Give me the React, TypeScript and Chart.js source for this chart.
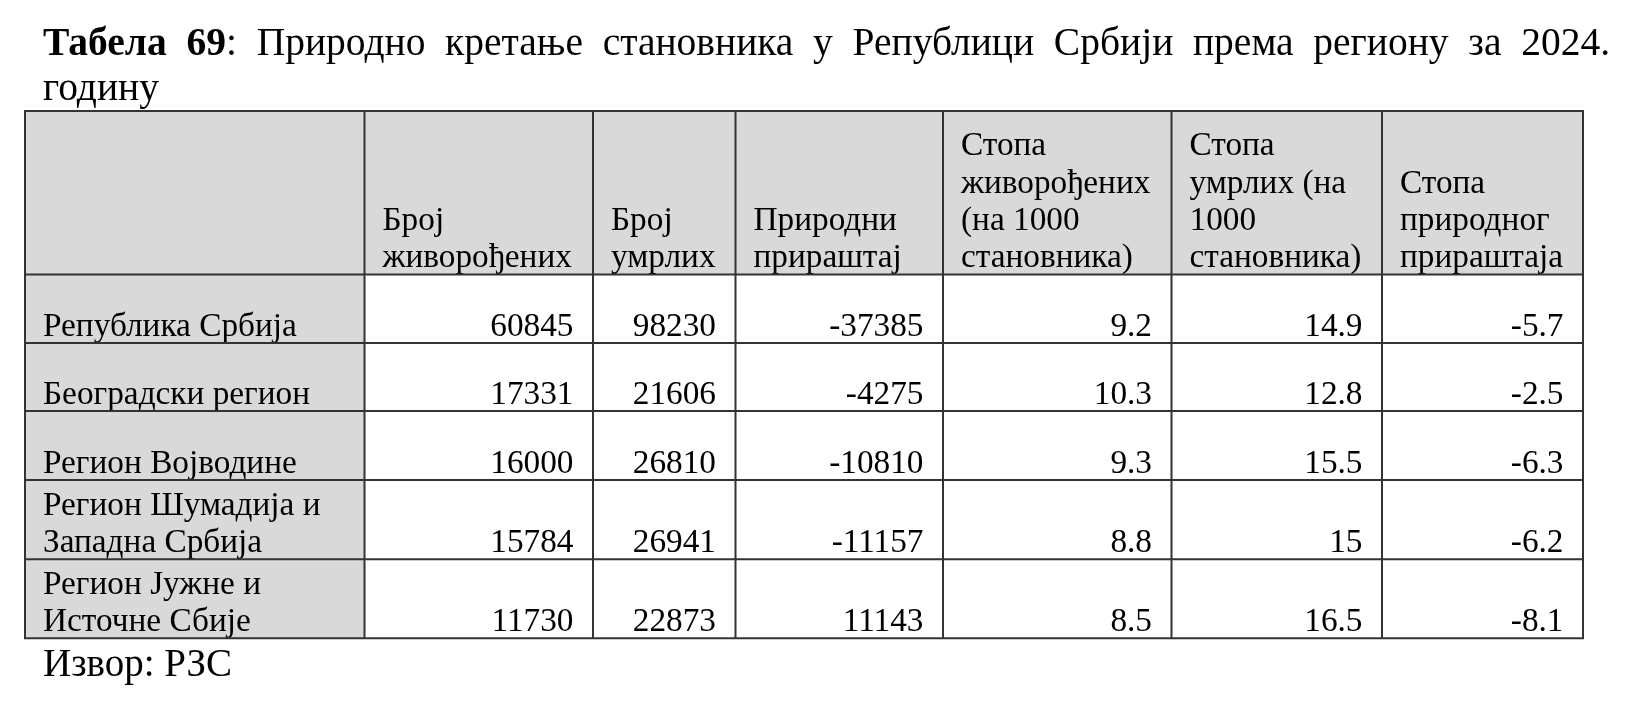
import { useEffect, useRef } from "react";
import { Chart, registerables } from "chart.js";

Chart.register(...registerables);

// ---------- data ----------
const titleBold = "Табела 69";
const titleRest = ": Природно кретање становника у Републици Србији према региону за 2024.";
const titleLine2 = "годину";
const sourceNote = "Извор: РЗС";

const regions: string[][] = [
  ["Република Србија"],
  ["Београдски регион"],
  ["Регион Војводине"],
  ["Регион Шумадија и", "Западна Србија"],
  ["Регион Јужне и", "Источне Сбије"],
];

const columnHeaders: string[][] = [
  [],
  ["Број", "живорођених"],
  ["Број", "умрлих"],
  ["Природни", "прираштај"],
  ["Стопа", "живорођених", "(на 1000", "становника)"],
  ["Стопа", "умрлих (на", "1000", "становника)"],
  ["Стопа", "природног", "прираштаја"],
];

const liveBirths = [60845, 17331, 16000, 15784, 11730];
const deaths = [98230, 21606, 26810, 26941, 22873];
const naturalIncrease = [-37385, -4275, -10810, -11157, 11143];
const birthRate = [9.2, 10.3, 9.3, 8.8, 8.5];
const deathRate = [14.9, 12.8, 15.5, 15, 16.5];
const naturalRate = [-5.7, -2.5, -6.3, -6.2, -8.1];

const valueColumns = [liveBirths, deaths, naturalIncrease, birthRate, deathRate, naturalRate];

// ---------- layout (scale units) ----------
const W = 1638;
const H = 728;
const COL_EDGES = [25, 364.5, 593, 735.5, 943, 1171.5, 1382, 1583];
const ROW_EDGES = [111, 274.5, 343, 411, 480, 559.3, 638.3];
const PAD_L = 18;
const PAD_R = 19.5;
const BASE_OFF = 7.5;
const LINE_H = 37.2;
const TITLE_X0 = 43;
const TITLE_X1 = 1610;
const TITLE_Y1 = 55;
const TITLE_Y2 = 100;
const SOURCE_Y = 676;

const FONT = '"Liberation Serif", "Times New Roman", serif';
const BODY_FONT = `33.3px ${FONT}`;
const TITLE_FONT = `39.5px ${FONT}`;
const TITLE_BOLD = `bold 39.5px ${FONT}`;
const SOURCE_FONT = `39px ${FONT}`;
const GRAY = "#d9d9d9";
const LINE = "#333333";

const tablePlugin = {
  id: "tablePlugin",
  beforeDraw(chart: any) {
    const ctx = chart.ctx;
    ctx.save();
    ctx.fillStyle = "#ffffff";
    ctx.fillRect(0, 0, chart.width, chart.height);
    ctx.restore();
  },
  afterDraw(chart: any) {
    const ctx: CanvasRenderingContext2D = chart.ctx;
    const xs = chart.scales.x;
    const ys = chart.scales.y;
    const px = (v: number) => xs.getPixelForValue(v);
    const py = (v: number) => ys.getPixelForValue(v);
    ctx.save();

    // fills
    const nCols = COL_EDGES.length - 1;
    const nRows = ROW_EDGES.length - 1;
    for (let r = 0; r < nRows; r++) {
      for (let c = 0; c < nCols; c++) {
        const gray = r === 0 || c === 0;
        ctx.fillStyle = gray ? GRAY : "#ffffff";
        const x0 = px(COL_EDGES[c]);
        const x1 = px(COL_EDGES[c + 1]);
        const y0 = py(ROW_EDGES[r]);
        const y1 = py(ROW_EDGES[r + 1]);
        ctx.fillRect(x0, y0, x1 - x0, y1 - y0);
      }
    }

    ctx.fillStyle = "#000000";
    ctx.textBaseline = "alphabetic";

    // title line 1 (justified)
    type Piece = { text: string; font: string };
    const words: Piece[][] = [];
    const boldWords = titleBold.split(" ");
    boldWords.forEach((w, i) => {
      const pieces: Piece[] = [{ text: w, font: TITLE_BOLD }];
      if (i === boldWords.length - 1) pieces.push({ text: ":", font: TITLE_FONT });
      words.push(pieces);
    });
    titleRest
      .replace(/^:\s*/, "")
      .split(" ")
      .forEach((w) => words.push([{ text: w, font: TITLE_FONT }]));
    const wordWidth = (w: Piece[]) =>
      w.reduce((s, p) => {
        ctx.font = p.font;
        return s + ctx.measureText(p.text).width;
      }, 0);
    const widths = words.map(wordWidth);
    const total = widths.reduce((a, b) => a + b, 0);
    const gap = (px(TITLE_X1) - px(TITLE_X0) - total) / (words.length - 1);
    let cx = px(TITLE_X0);
    ctx.textAlign = "left";
    words.forEach((w, i) => {
      let x = cx;
      w.forEach((p) => {
        ctx.font = p.font;
        ctx.fillText(p.text, x, py(TITLE_Y1));
        x += ctx.measureText(p.text).width;
      });
      cx += widths[i] + gap;
    });
    ctx.font = TITLE_FONT;
    ctx.fillText(titleLine2, px(TITLE_X0), py(TITLE_Y2));

    // header
    ctx.font = BODY_FONT;
    columnHeaders.forEach((lines, c) => {
      const bottom = ROW_EDGES[1] - BASE_OFF;
      lines.forEach((ln, i) => {
        const yv = bottom - (lines.length - 1 - i) * LINE_H;
        ctx.textAlign = "left";
        ctx.fillText(ln, px(COL_EDGES[c] + PAD_L), py(yv));
      });
    });

    // body rows
    regions.forEach((lines, r) => {
      const bottom = ROW_EDGES[r + 2] - BASE_OFF;
      ctx.textAlign = "left";
      lines.forEach((ln, i) => {
        const yv = bottom - (lines.length - 1 - i) * LINE_H;
        ctx.fillText(ln, px(COL_EDGES[0] + PAD_L), py(yv));
      });
      ctx.textAlign = "right";
      valueColumns.forEach((col, c) => {
        ctx.fillText(String(col[r]), px(COL_EDGES[c + 2] - PAD_R), py(bottom));
      });
    });

    // grid lines
    ctx.strokeStyle = LINE;
    ctx.lineWidth = 2;
    ctx.beginPath();
    COL_EDGES.forEach((e) => {
      ctx.moveTo(px(e), py(ROW_EDGES[0]) - 1);
      ctx.lineTo(px(e), py(ROW_EDGES[ROW_EDGES.length - 1]) + 1);
    });
    ROW_EDGES.forEach((e) => {
      ctx.moveTo(px(COL_EDGES[0]) - 1, py(e));
      ctx.lineTo(px(COL_EDGES[COL_EDGES.length - 1]) + 1, py(e));
    });
    ctx.stroke();

    // source
    ctx.font = SOURCE_FONT;
    ctx.textAlign = "left";
    ctx.fillStyle = "#000000";
    ctx.fillText(sourceNote, px(TITLE_X0), py(SOURCE_Y));

    ctx.restore();
  },
};

export default function App() {
  const ref = useRef<HTMLCanvasElement>(null);
  useEffect(() => {
    document.body.style.margin = "0";
    const canvas = ref.current;
    if (!canvas) return;
    const chart = new Chart(canvas, {
      type: "scatter",
      data: { datasets: [{ data: [], pointRadius: 0 }] },
      options: {
        animation: false,
        responsive: false,
        events: [],
        layout: { padding: 0 },
        plugins: {
          legend: { display: false },
          tooltip: { enabled: false },
          title: { display: false },
        },
        scales: {
          x: { type: "linear", min: 0, max: W, display: false },
          y: { type: "linear", min: 0, max: H, reverse: true, display: false },
        },
      },
      plugins: [tablePlugin],
    } as any);
    return () => chart.destroy();
  }, []);
  return (
    <canvas
      ref={ref}
      width={W}
      height={H}
      style={{ display: "block", width: W, height: H }}
    />
  );
}
